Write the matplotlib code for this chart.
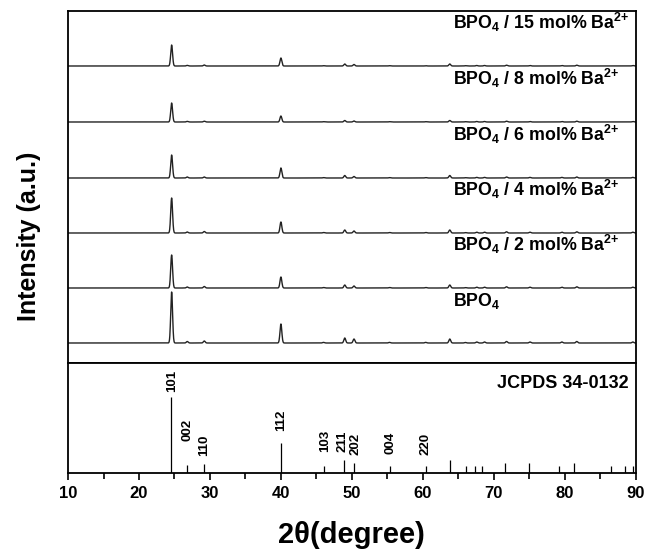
import numpy as np
import matplotlib
matplotlib.use("Agg")
from matplotlib import pyplot as plt

plt.rcParams['font.family'] = ['Liberation Sans', 'DejaVu Sans']
plt.rcParams['mathtext.fontset'] = 'custom'
plt.rcParams['mathtext.rm'] = 'Liberation Sans'
plt.rcParams['mathtext.bf'] = 'Liberation Sans:bold'

# sample labels, bottom to top
sup = r'$^{\mathbf{2}{\mathbf{+}}}$'
samples = [r'BPO$_\mathbf{4}$',
           r'BPO$_\mathbf{4}$ / 2 mol% Ba' + sup,
           r'BPO$_\mathbf{4}$ / 4 mol% Ba' + sup,
           r'BPO$_\mathbf{4}$ / 6 mol% Ba' + sup,
           r'BPO$_\mathbf{4}$ / 8 mol% Ba' + sup,
           r'BPO$_\mathbf{4}$ / 15 mol% Ba' + sup]

# observed peak positions (2theta) and heights per sample (a.u.)
peak_pos = [24.6, 26.8, 29.2, 40.0, 46.0, 49.0, 50.3, 55.3, 60.4, 63.8,
            66.0, 67.6, 68.7, 71.8, 75.1, 79.6, 81.7, 89.6]
peak_h = [
    [51, 1.5, 2.0, 19, 0.6, 5.0, 4.0, 0.6, 0.6, 4.0, 0.5, 1.0, 1.0, 1.5, 1.0, 1.0, 1.5, 1.0],
    [33, 1.0, 1.5, 11, 0.5, 3.0, 2.0, 0.5, 0.5, 3.0, 0.4, 0.8, 0.8, 1.2, 0.8, 0.8, 1.2, 0.8],
    [35, 1.0, 1.5, 11, 0.5, 3.0, 2.0, 0.5, 0.5, 3.0, 0.4, 0.8, 0.8, 1.2, 0.8, 0.8, 1.2, 0.8],
    [23, 1.0, 1.0, 10, 0.4, 2.5, 1.5, 0.4, 0.4, 2.5, 0.3, 0.6, 0.6, 1.0, 0.6, 0.6, 1.0, 0.6],
    [19, 0.6, 0.8, 6, 0.3, 1.5, 1.0, 0.3, 0.3, 1.5, 0.3, 0.5, 0.5, 0.8, 0.5, 0.5, 0.8, 0.5],
    [21, 0.6, 1.0, 8, 0.3, 2.0, 1.5, 0.3, 0.3, 2.0, 0.3, 0.5, 0.5, 0.8, 0.5, 0.5, 0.8, 0.5],
]
offsets = [0, 55, 110, 165, 221, 277]

# JCPDS 34-0132 reference lines
ref_pos = [24.46, 26.8, 29.1, 40.0, 46.06, 48.9, 50.3, 55.4, 60.4, 63.85,
           66.15, 67.3, 68.4, 71.6, 75.0, 79.2, 81.3, 86.5, 88.5, 89.6]
ref_int = [100, 10.5, 12, 39.5, 9, 17, 13, 9, 9, 17,
           9, 9, 9, 13, 13, 9, 13, 9, 9, 9]
hkl = ['101', '002', '110', '112', '103', '211', '202', '004', '220']
hkl_x = [24.6, 26.9, 29.2, 40.1, 46.3, 48.7, 50.5, 55.4, 60.4]
hkl_y = [107, 42, 22.4, 55, 27.7, 27.7, 23.7, 25, 23.7]

fig = plt.figure(figsize=(6.48, 5.5), dpi=100)
ax1 = fig.add_axes([0.105, 0.34, 0.876, 0.64])
ax2 = fig.add_axes([0.105, 0.14, 0.876, 0.20], sharex=ax1)

x = np.linspace(10, 90, 4000)
sig = 0.13
for lab, h, off in zip(samples, peak_h, offsets):
    y = np.zeros_like(x)
    for p, a in zip(peak_pos, h):
        y += a * np.exp(-0.5 * ((x - p) / sig) ** 2)
    ax1.plot(x, y + off, color='#222222', lw=1.0)
    ax1.text(64.2, off + 37, lab, fontsize=12.8, fontweight='bold',
             ha='left', va='baseline')

ax1.set_xlim(10, 90)
ax1.set_ylim(-20, 332)
ax1.set_yticks([])
ax1.tick_params(axis='x', which='both', bottom=False, labelbottom=False)

ax2.vlines(ref_pos, 0, ref_int, color='black', lw=0.9)
for px, lab, yy in zip(hkl_x, hkl, hkl_y):
    ax2.text(px, yy, lab, rotation=90, ha='center', va='bottom',
             fontsize=9.5, fontweight='bold')
ax2.text(89, 118, 'JCPDS 34-0132', fontsize=13, fontweight='bold',
         ha='right', va='center')
ax2.set_ylim(0, 145)
ax2.set_yticks([])
ax2.set_xticks(np.arange(10, 91, 10))
ax2.set_xticks(np.arange(15, 90, 10), minor=True)
ax2.tick_params(axis='x', which='major', direction='out', length=5, width=1.2,
                labelsize=12, pad=4)
ax2.tick_params(axis='x', which='minor', direction='out', length=4, width=1.2)
for lbl in ax2.get_xticklabels():
    lbl.set_fontweight('bold')

for a in (ax1, ax2):
    for s in a.spines.values():
        s.set_linewidth(1.3)

ax2.set_xlabel(u'2\u03b8(degree)', fontsize=21, fontweight='bold', labelpad=15)
fig.text(0.044, 0.57, 'Intensity (a.u.)', rotation=90, fontsize=18,
         fontweight='bold', ha='center', va='center')

fig.savefig('out.png', dpi=100)
